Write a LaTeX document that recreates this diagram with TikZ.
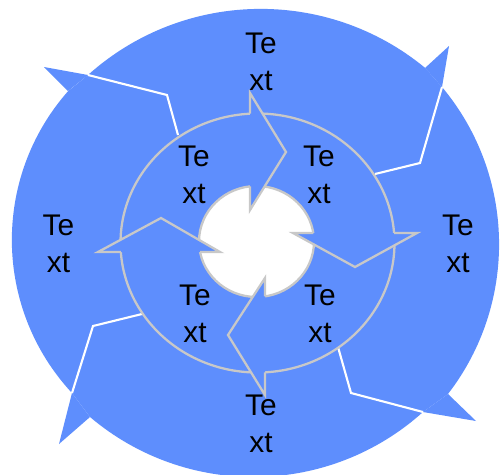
\documentclass[tikz,border=0pt]{standalone}
\usepackage{fontspec}
\setmainfont{Liberation Sans}
\usetikzlibrary{calc}
\definecolor{wheelblue}{RGB}{94,142,253}
\definecolor{wheelgray}{RGB}{200,200,200}
\tikzset{
  wheeltext/.style={align=center, inner sep=0pt, font=\fontsize{17}{21}\selectfont},
  wheelcut/.style={draw=white, line width=1.2pt},
  wheeledge/.style={draw=wheelgray, line width=1.3pt},
}
\begin{document}
\begin{tikzpicture}[x=0.02cm, y=-0.02cm]
  \fill[white] (0,0) rectangle (500,474);
  \clip (0,0) rectangle (500,474);
  % outer ring of arrows
  \fill[wheelblue] (88,75) arc[start angle=-131.9, end angle=-50.5, radius=258.6]
    -- (442,87) arc[start angle=-39.9, end angle=37.7, radius=245.1]
    -- (423,412) arc[start angle=48, end angle=130.3, radius=253.1]
    -- (72,393) arc[start angle=137.1, end angle=221.4, radius=224.9] -- cycle;
  \fill[wheelblue] (68,91) -- (44,67) -- (88,75) -- cycle;
  \fill[wheelblue] (425,68) -- (449,46) -- (442,87) -- cycle;
  \fill[wheelblue] (448,394) -- (476,421) -- (423,412) -- cycle;
  \fill[wheelblue] (90,417) -- (59,444) -- (72,393) -- cycle;
  \draw[wheelcut] (88,75) -- (167,95) -- (178,135);
  \draw[wheelcut] (442,87) -- (420,163) -- (375,174);
  \draw[wheelcut] (423,412) -- (351,393) -- (338,347);
  \draw[wheelcut] (72,393) -- (93,326) -- (142,314);
  % inner ring and hole
  \draw[wheeledge] (257.5,243) ellipse [x radius=137, y radius=129.5];
  \filldraw[wheeledge, fill=white] (256.5,241.5) ellipse [x radius=57.5, y radius=55.5];
  \coordinate (tT) at (250,93);   \coordinate (tK) at (286,152); \coordinate (tH) at (250,210);
  \coordinate (tR) at (250,113.7); \coordinate (tN) at (250,186.4);
  \coordinate (rT) at (417,233);  \coordinate (rK) at (355,267); \coordinate (rH) at (293,233);
  \coordinate (rR) at (394,233);  \coordinate (rN) at (313.3,233);
  \coordinate (bT) at (265,395);  \coordinate (bK) at (228,335); \coordinate (bH) at (265,278);
  \coordinate (bR) at (265,372.3); \coordinate (bN) at (265,296.4);
  \coordinate (lT) at (98,252);   \coordinate (lK) at (161,218); \coordinate (lH) at (220,252);
  \coordinate (lR) at (120.8,252); \coordinate (lN) at (200,252);
  \fill[wheelblue] (tT) -- ($(tT)!1.35!(tR)$) -- ($(tT)!0.55!(tK)$) -- cycle;
  \fill[wheelblue] (tH) -- ($(tH)!1.35!(tN)$) -- ($(tH)!0.55!(tK)$) -- cycle;
  \fill[wheelblue] (rT) -- ($(rT)!1.35!(rR)$) -- ($(rT)!0.55!(rK)$) -- cycle;
  \fill[wheelblue] (rH) -- ($(rH)!1.35!(rN)$) -- ($(rH)!0.55!(rK)$) -- cycle;
  \fill[wheelblue] (bT) -- ($(bT)!1.35!(bR)$) -- ($(bT)!0.55!(bK)$) -- cycle;
  \fill[wheelblue] (bH) -- ($(bH)!1.35!(bN)$) -- ($(bH)!0.55!(bK)$) -- cycle;
  \fill[wheelblue] (lT) -- ($(lT)!1.35!(lR)$) -- ($(lT)!0.55!(lK)$) -- cycle;
  \fill[wheelblue] (lH) -- ($(lH)!1.35!(lN)$) -- ($(lH)!0.55!(lK)$) -- cycle;
  \draw[wheeledge] (tR) -- (tT) -- (tK) -- (tH) -- (tN);
  \draw[wheeledge] (rR) -- (rT) -- (rK) -- (rH) -- (rN);
  \draw[wheeledge] (bR) -- (bT) -- (bK) -- (bH) -- (bN);
  \draw[wheeledge] (lR) -- (lT) -- (lK) -- (lH) -- (lN);
  % labels
  \node[wheeltext] (outerTop) at (261,62) {Te\\xt};
  \node[wheeltext] (outerRight) at (458,244) {Te\\xt};
  \node[wheeltext] (outerBottom) at (261,424) {Te\\xt};
  \node[wheeltext] (outerLeft) at (58.5,244) {Te\\xt};
  \node[wheeltext] (innerTL) at (194,175) {Te\\xt};
  \node[wheeltext] (innerTR) at (319,175) {Te\\xt};
  \node[wheeltext] (innerBR) at (320,314) {Te\\xt};
  \node[wheeltext] (innerBL) at (195,314) {Te\\xt};
\end{tikzpicture}
\end{document}
